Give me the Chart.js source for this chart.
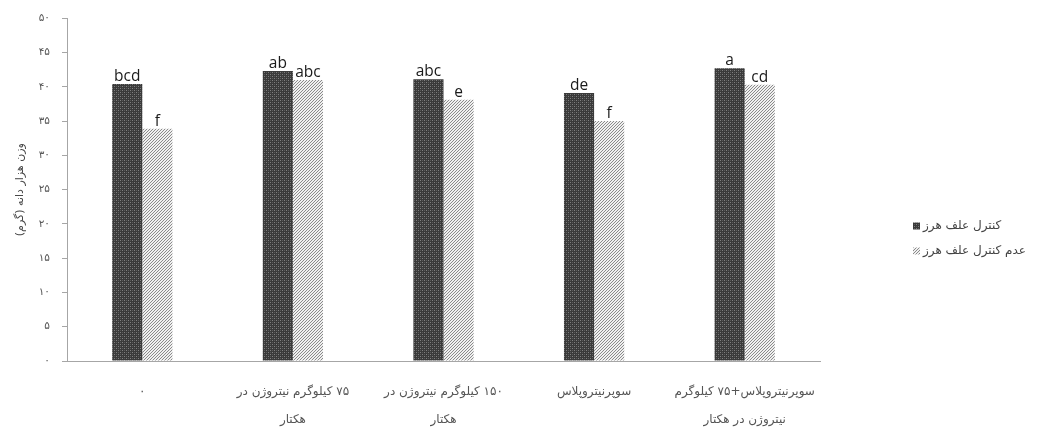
<!DOCTYPE html>
<html>
<head>
<meta charset="utf-8">
<script src="https://cdn.jsdelivr.net/npm/chart.js@4/dist/chart.umd.min.js"></script>
<style>
html,body{margin:0;padding:0;background:#fff;}
#wrap{width:1039px;height:428px;position:relative;}
</style>
</head>
<body>
<div id="wrap"><canvas id="c" dir="rtl" width="1039" height="428"></canvas></div>
<script>
// ---- data ----
const categories = [
  ['۰'],
  ['۷۵ کیلوگرم نیتروژن در', 'هکتار'],
  ['۱۵۰ کیلوگرم نیتروژن در', 'هکتار'],
  ['سوپرنیتروپلاس'],
  ['سوپرنیتروپلاس+۷۵ کیلوگرم', 'نیتروژن در هکتار']
];
const seriesNames = ['کنترل علف هرز', 'عدم کنترل علف هرز'];
const weedControl = [40.4, 42.3, 41.1, 39.1, 42.7];
const noWeedControl = [33.9, 41.0, 38.1, 35.0, 40.3];
const lettersControl = ['bcd', 'ab', 'abc', 'de', 'a'];
const lettersNoControl = ['f', 'abc', 'e', 'f', 'cd'];
const yTickLabels = ['۰','۵','۱۰','۱۵','۲۰','۲۵','۳۰','۳۵','۴۰','۴۵','۵۰'];
const yTitle = 'وزن هزار دانه (گرم)';

// ---- patterns ----
function makeDark(){
  const t = document.createElement('canvas'); t.width = 4; t.height = 4;
  const g = t.getContext('2d');
  g.fillStyle = '#3a3a3a'; g.fillRect(0,0,4,4);
  g.fillStyle = '#808080'; g.fillRect(0,0,1,1); g.fillRect(2,2,1,1);
  g.fillStyle = '#5a5a5a'; g.fillRect(2,0,1,1); g.fillRect(0,2,1,1);
  return g.createPattern(t,'repeat');
}
function makeHatch(){
  const t = document.createElement('canvas'); t.width = 3; t.height = 3;
  const g = t.getContext('2d');
  g.fillStyle = '#f0f0f0'; g.fillRect(0,0,3,3);
  g.fillStyle = '#8a8a8a';
  g.fillRect(0,2,1,1); g.fillRect(1,1,1,1); g.fillRect(2,0,1,1);
  return g.createPattern(t,'repeat');
}
const ctx0 = document.getElementById('c').getContext('2d');
const darkPat = makeDark();
const hatchPat = makeHatch();

const letterPlugin = {
  id: 'letters',
  afterDatasetsDraw(chart){
    const ctx = chart.ctx;
    const sets = [lettersControl, lettersNoControl];
    ctx.save();
    ctx.direction = 'ltr';
    ctx.font = '15.5px "Open Sans", sans-serif';
    ctx.fillStyle = '#1a1a1a';
    ctx.textAlign = 'center';
    ctx.textBaseline = 'alphabetic';
    chart.data.datasets.forEach((ds, di) => {
      const meta = chart.getDatasetMeta(di);
      meta.data.forEach((bar, i) => {
        ctx.fillText(sets[di][i], bar.x, bar.y - 3);
      });
    });
    ctx.restore();
  }
};

const legendPlugin = {
  id: 'customLegend',
  afterDraw(chart){
    const ctx = chart.ctx;
    const pats = [darkPat, hatchPat];
    const x0 = chart.chartArea.right + 93;
    const ys = [226, 251];
    ctx.save();
    ctx.font = '12px "DejaVu Sans", sans-serif';
    ctx.textBaseline = 'middle';
    seriesNames.forEach((n, i) => {
      ctx.fillStyle = pats[i];
      ctx.fillRect(x0, ys[i] - 3.5, 7, 7);
      ctx.fillStyle = '#444';
      ctx.direction = 'rtl';
      ctx.textAlign = 'left';
      ctx.fillText(n, x0 + 10, ys[i]);
    });
    ctx.restore();
  }
};

new Chart(ctx0, {
  type: 'bar',
  data: {
    labels: categories,
    datasets: [
      { label: seriesNames[0], data: weedControl, backgroundColor: darkPat, borderWidth: 0 },
      { label: seriesNames[1], data: noWeedControl, backgroundColor: hatchPat, borderWidth: 0 }
    ]
  },
  options: {
    responsive: false,
    animation: false,
    devicePixelRatio: 1,
    layout: { padding: { left: 14, right: 219, top: 16, bottom: 0 } },
    plugins: { legend: { display: false }, tooltip: { enabled: false } },
    datasets: { bar: { barPercentage: 1.0, categoryPercentage: 0.4 } },
    scales: {
      x: {
        grid: { display: false, drawTicks: false },
        border: { display: true, color: '#a6a6a6', width: 1 },
        ticks: {
          maxRotation: 0, autoSkip: false, padding: 17,
          color: '#555',
          font: { family: '"DejaVu Sans", sans-serif', size: 12, lineHeight: 2.3 }
        },
        afterFit(s){ s.height = 67; }
      },
      y: {
        min: 0, max: 50,
        grid: { display: true, drawOnChartArea: false, drawTicks: true, tickLength: 5, color: '#a6a6a6' },
        border: { display: true, color: '#a6a6a6', width: 1 },
        ticks: {
          stepSize: 5, padding: 12, color: '#555',
          font: { family: '"DejaVu Sans", sans-serif', size: 10.5 },
          callback: (v) => yTickLabels[Math.round(v / 5)]
        },
        title: {
          display: true, text: yTitle, color: '#444', padding: { top: 0, bottom: 0 },
          font: { family: '"DejaVu Sans", sans-serif', size: 11 }
        },
        afterFit(s){ s.width = 53; }
      }
    }
  },
  plugins: [letterPlugin, legendPlugin]
});
</script>
</body>
</html>
